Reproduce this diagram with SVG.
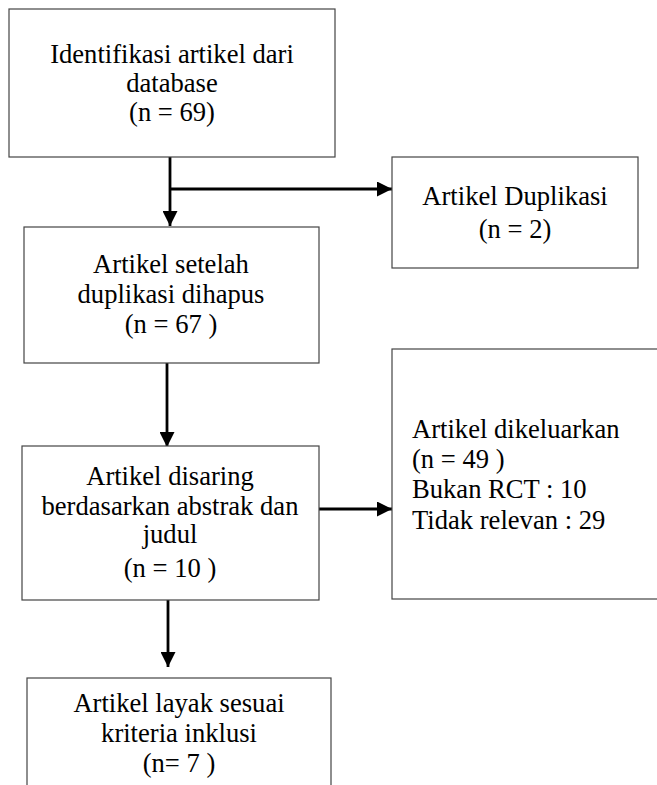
<svg xmlns="http://www.w3.org/2000/svg" width="657" height="785" viewBox="0 0 657 785">
<style>
.box{fill:#fff;stroke:#444;stroke-width:1.2}
.t{font-family:"Liberation Serif","Times New Roman",serif;font-size:26.6px;fill:#000}
.c{text-anchor:middle}
.ln{fill:none;stroke:#000;stroke-width:2.8}
</style>
<defs>
<marker id="ah" markerWidth="15" markerHeight="15" refX="15" refY="7.5" orient="auto" markerUnits="userSpaceOnUse">
<path d="M0,0 L15,7.5 L0,15 Z" fill="#000"/>
</marker>
</defs>
<rect width="657" height="785" fill="#fff"/>
<g id="connectors">
<path class="ln" d="M170,157 V226" marker-end="url(#ah)"/>
<path class="ln" d="M170,189 H392" marker-end="url(#ah)"/>
<path class="ln" d="M167,363 V447" marker-end="url(#ah)"/>
<path class="ln" d="M319,509 H392" marker-end="url(#ah)"/>
<path class="ln" d="M168,600 V667" marker-end="url(#ah)"/>
</g>
<g id="n1">
<rect class="box" x="9" y="9" width="326" height="148"/>
<text class="t c" x="172" y="63">Identifikasi artikel dari</text>
<text class="t c" x="172" y="92">database</text>
<text class="t c" x="172" y="121">(n = 69)</text>
</g>
<g id="n2">
<rect class="box" x="392" y="157" width="246" height="111"/>
<text class="t c" x="515" y="205">Artikel Duplikasi</text>
<text class="t c" x="515" y="238">(n = 2)</text>
</g>
<g id="n3">
<rect class="box" x="24" y="227" width="295" height="136"/>
<text class="t c" x="171" y="273">Artikel setelah</text>
<text class="t c" x="171" y="303">duplikasi dihapus</text>
<text class="t c" x="171" y="333">(n = 67 )</text>
</g>
<g id="n4">
<rect class="box" x="22" y="446" width="297" height="154"/>
<text class="t c" x="170" y="485">Artikel disaring</text>
<text class="t c" x="170" y="515">berdasarkan abstrak dan</text>
<text class="t c" x="170" y="543">judul</text>
<text class="t c" x="170" y="577">(n = 10 )</text>
</g>
<g id="n5">
<rect class="box" x="392" y="349" width="270" height="250"/>
<text class="t" x="412" y="438">Artikel dikeluarkan</text>
<text class="t" x="412" y="468">(n = 49 )</text>
<text class="t" x="412" y="498">Bukan RCT : 10</text>
<text class="t" x="412" y="529">Tidak relevan : 29</text>
</g>
<g id="n6">
<rect class="box" x="27" y="678" width="304" height="120"/>
<text class="t c" x="179" y="712">Artikel layak sesuai</text>
<text class="t c" x="179" y="742">kriteria inklusi</text>
<text class="t c" x="179" y="772">(n= 7 )</text>
</g>
</svg>
